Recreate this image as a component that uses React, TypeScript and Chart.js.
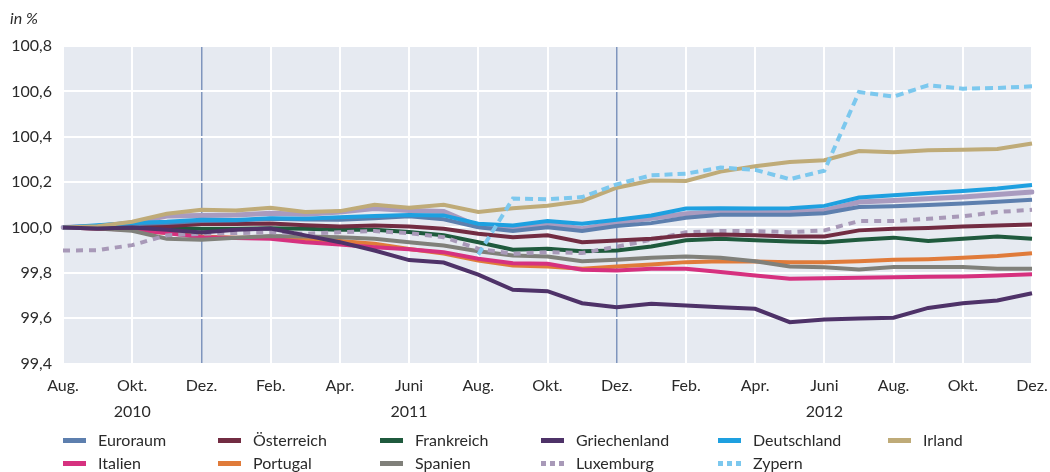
import React, { useEffect, useRef } from "react";
import { Chart, registerables } from "chart.js";

Chart.register(...registerables);

const categories = [
  "Aug. 2010", "Sep. 2010", "Okt. 2010", "Nov. 2010", "Dez. 2010",
  "Jan. 2011", "Feb. 2011", "März 2011", "Apr. 2011", "Mai 2011", "Juni 2011", "Juli 2011",
  "Aug. 2011", "Sep. 2011", "Okt. 2011", "Nov. 2011", "Dez. 2011",
  "Jan. 2012", "Feb. 2012", "März 2012", "Apr. 2012", "Mai 2012", "Juni 2012", "Juli 2012",
  "Aug. 2012", "Sep. 2012", "Okt. 2012", "Nov. 2012", "Dez. 2012",
];

const tickLabels: (string | string[])[] = [
  "Aug.", "", ["Okt.", "2010"], "", "Dez.", "", "Feb.", "", "Apr.", "", ["Juni", "2011"], "",
  "Aug.", "", "Okt.", "", "Dez.", "", "Feb.", "", "Apr.", "", ["Juni", "2012"], "",
  "Aug.", "", "Okt.", "", "Dez.",
];

const yTicks = [99.4, 99.6, 99.8, 100.0, 100.2, 100.4, 100.6, 100.8];
const markerMonths = ["Dez. 2010", "Dez. 2011"];

const euroraum = [100.0, 100.005, 100.015, 100.02, 100.028, 100.03, 100.038, 100.035, 100.034, 100.04, 100.049, 100.036, 100.001, 99.984, 100.001, 99.984, 100.006, 100.019, 100.043, 100.056, 100.056, 100.056, 100.063, 100.09, 100.093, 100.099, 100.105, 100.113, 100.122];
const oesterreich = [100.0, 99.995, 100.0, 100.005, 100.015, 100.015, 100.017, 100.01, 100.004, 100.009, 100.004, 99.994, 99.972, 99.957, 99.965, 99.935, 99.942, 99.95, 99.965, 99.969, 99.965, 99.96, 99.96, 99.987, 99.994, 99.998, 100.004, 100.008, 100.013];
const frankreich = [100.0, 100.0, 100.0, 99.997, 99.994, 99.994, 99.996, 99.994, 99.99, 99.99, 99.98, 99.966, 99.935, 99.902, 99.906, 99.895, 99.898, 99.916, 99.943, 99.95, 99.943, 99.938, 99.935, 99.946, 99.955, 99.94, 99.95, 99.96, 99.95];
const griechenland = [100.0, 99.995, 100.0, 99.99, 99.978, 99.99, 99.995, 99.965, 99.935, 99.898, 99.856, 99.845, 99.792, 99.725, 99.719, 99.666, 99.648, 99.663, 99.656, 99.648, 99.641, 99.582, 99.594, 99.598, 99.602, 99.645, 99.666, 99.678, 99.71];
const deutschland = [100.0, 100.01, 100.02, 100.025, 100.034, 100.033, 100.04, 100.038, 100.045, 100.05, 100.055, 100.053, 100.016, 100.009, 100.028, 100.016, 100.034, 100.053, 100.083, 100.085, 100.083, 100.085, 100.095, 100.132, 100.142, 100.152, 100.161, 100.172, 100.187];
const irland = [100.0, 100.005, 100.025, 100.06, 100.078, 100.075, 100.087, 100.068, 100.072, 100.1, 100.087, 100.1, 100.068, 100.085, 100.096, 100.116, 100.175, 100.207, 100.205, 100.246, 100.27, 100.288, 100.296, 100.337, 100.331, 100.34, 100.342, 100.346, 100.37];
const italien = [100.0, 99.995, 99.99, 99.975, 99.957, 99.953, 99.95, 99.935, 99.925, 99.913, 99.904, 99.891, 99.862, 99.842, 99.84, 99.813, 99.81, 99.818, 99.818, 99.803, 99.788, 99.774, 99.776, 99.778, 99.78, 99.782, 99.784, 99.788, 99.793];
const portugal = [100.0, 100.0, 99.99, 99.975, 99.96, 99.955, 99.955, 99.948, 99.94, 99.928, 99.905, 99.885, 99.854, 99.832, 99.828, 99.818, 99.828, 99.837, 99.847, 99.851, 99.85, 99.847, 99.847, 99.851, 99.857, 99.86, 99.866, 99.874, 99.886];
const spanien = [100.0, 99.995, 99.985, 99.95, 99.946, 99.955, 99.962, 99.96, 99.957, 99.95, 99.935, 99.92, 99.895, 99.876, 99.872, 99.851, 99.857, 99.866, 99.872, 99.866, 99.851, 99.828, 99.824, 99.815, 99.825, 99.825, 99.825, 99.818, 99.818];
const luxemburg = [99.898, 99.9, 99.922, 99.965, 99.972, 99.975, 99.979, 99.972, 99.979, 99.984, 99.975, 99.957, 99.906, 99.884, 99.891, 99.887, 99.915, 99.946, 99.979, 99.984, 99.984, 99.979, 99.987, 100.028, 100.028, 100.038, 100.049, 100.068, 100.078];
const zypern = [null, null, null, null, null, null, null, null, null, null, null, null, 99.88, 100.127, 100.124, 100.134, 100.19, 100.23, 100.237, 100.264, 100.254, 100.213, 100.25, 100.597, 100.577, 100.627, 100.612, 100.615, 100.622];
const ohneLegende = [100.0, 100.005, 100.02, 100.05, 100.053, 100.055, 100.063, 100.058, 100.068, 100.083, 100.075, 100.07, 100.005, 99.994, 100.016, 99.994, 100.02, 100.04, 100.06, 100.068, 100.07, 100.072, 100.075, 100.112, 100.119, 100.126, 100.134, 100.145, 100.156];

const COLORS = {
  euroraum: "#5d7fae",
  oesterreich: "#722c42",
  frankreich: "#1f5a3d",
  griechenland: "#4e3268",
  deutschland: "#1ea0e0",
  irland: "#bfab78",
  italien: "#d6317f",
  portugal: "#e07b3a",
  spanien: "#80807a",
  luxemburg: "#a899b8",
  zypern: "#7cc8ee",
  ohne: "#a99bbf",
};

const legendItems = [
  { label: "Euroraum", color: COLORS.euroraum, dotted: false, col: 0, row: 0 },
  { label: "Österreich", color: COLORS.oesterreich, dotted: false, col: 1, row: 0 },
  { label: "Frankreich", color: COLORS.frankreich, dotted: false, col: 2, row: 0 },
  { label: "Griechenland", color: COLORS.griechenland, dotted: false, col: 3, row: 0 },
  { label: "Deutschland", color: COLORS.deutschland, dotted: false, col: 4, row: 0 },
  { label: "Irland", color: COLORS.irland, dotted: false, col: 5, row: 0 },
  { label: "Italien", color: COLORS.italien, dotted: false, col: 0, row: 1 },
  { label: "Portugal", color: COLORS.portugal, dotted: false, col: 1, row: 1 },
  { label: "Spanien", color: COLORS.spanien, dotted: false, col: 2, row: 1 },
  { label: "Luxemburg", color: COLORS.luxemburg, dotted: true, col: 3, row: 1 },
  { label: "Zypern", color: COLORS.zypern, dotted: true, col: 4, row: 1 },
];
const legendCols = [63, 218, 380, 541, 718, 888];
const legendRows = [440, 463];

const FONT = "Lato, 'Open Sans', sans-serif";

export default function App() {
  const ref = useRef<HTMLCanvasElement>(null);

  useEffect(() => {
    const line = (label: string, data: (number | null)[], color: string, extra: any = {}) => ({
      label,
      data,
      borderColor: color,
      backgroundColor: color,
      borderWidth: 4,
      pointRadius: 0,
      pointHoverRadius: 0,
      tension: 0,
      fill: false,
      spanGaps: false,
      ...extra,
    });

    const datasets = [
      line("Griechenland", griechenland, COLORS.griechenland),
      line("Zypern", zypern, COLORS.zypern, { borderDash: [8, 5] }),
      line("Irland", irland, COLORS.irland),
      line("Deutschland", deutschland, COLORS.deutschland),
      line("Euroraum", euroraum, COLORS.euroraum),
      line("", ohneLegende, COLORS.ohne, { borderWidth: 5, borderCapStyle: "round" }),
      line("Österreich", oesterreich, COLORS.oesterreich),
      line("Luxemburg", luxemburg, COLORS.luxemburg, { borderDash: [7, 6] }),
      line("Frankreich", frankreich, COLORS.frankreich),
      line("Spanien", spanien, COLORS.spanien),
      line("Italien", italien, COLORS.italien),
      line("Portugal", portugal, COLORS.portugal),
    ];

    const bgPlugin = {
      id: "plotBg",
      beforeDraw(chart: any) {
        const { ctx, chartArea } = chart;
        ctx.save();
        ctx.fillStyle = "#e6eaf1";
        ctx.fillRect(chartArea.left, chartArea.top, chartArea.right - chartArea.left, chartArea.bottom - chartArea.top);
        ctx.restore();
      },
    };

    const chart = new Chart(ref.current as HTMLCanvasElement, {
      type: "line",
      data: { labels: categories, datasets: datasets as any },
      plugins: [bgPlugin],
      options: {
        animation: false,
        responsive: true,
        maintainAspectRatio: false,
        layout: { padding: { top: 46, right: 18, left: 0, bottom: 0 } },
        plugins: { legend: { display: false }, tooltip: { enabled: false } },
        scales: {
          x: {
            type: "category",
            offset: false,
            border: { display: false },
            grid: {
              drawTicks: false,
              color: (ctx: any) => {
                const i = ctx.index;
                if (markerMonths.includes(categories[i])) return "#7f95bd";
                return i % 2 === 0 ? "#ffffff" : "rgba(0,0,0,0)";
              },
              lineWidth: (ctx: any) => (markerMonths.includes(categories[ctx.index]) ? 1.5 : 2),
            },
            ticks: {
              autoSkip: false,
              maxRotation: 0,
              minRotation: 0,
              padding: 10,
              color: "#2a2a2a",
              font: { family: FONT, size: 16, lineHeight: 1.6 },
              callback: (_v: any, i: number) => tickLabels[i],
            },
            afterFit: (s: any) => {
              s.height = 108.5;
              s.paddingLeft = 0;
              s.paddingRight = 0;
            },
          },
          y: {
            min: yTicks[0],
            max: yTicks[yTicks.length - 1],
            border: { display: false },
            grid: { drawTicks: false, color: "#ffffff", lineWidth: 2 },
            ticks: {
              stepSize: 0.2,
              padding: 11,
              color: "#2a2a2a",
              font: { family: FONT, size: 16 },
              callback: (v: any) => Number(v).toFixed(1).replace(".", ","),
            },
            afterFit: (s: any) => {
              s.width = 63;
            },
          },
        },
      },
    });
    return () => chart.destroy();
  }, []);

  return (
    <div style={{ position: "absolute", left: 0, top: 0, width: 1050, height: 472, background: "#fff", fontFamily: FONT }}>
      <div style={{ position: "absolute", left: 0, top: 0, width: 1050, height: 472 }}>
        <canvas ref={ref} />
      </div>
      <div style={{ position: "absolute", left: 10, top: 7, fontSize: 16, fontStyle: "italic", color: "#2a2a2a", lineHeight: "22px" }}>
        in %
      </div>
      {legendItems.map((it) => {
        const x = legendCols[it.col];
        const y = legendRows[it.row];
        return (
          <div key={it.label} style={{ position: "absolute", left: x, top: y - 11, height: 22, display: "flex", alignItems: "center" }}>
            <div
              style={{
                width: 23,
                height: 5,
                marginRight: 12,
                background: it.dotted
                  ? `repeating-linear-gradient(90deg, ${it.color} 0px, ${it.color} 5px, transparent 5px, transparent 9px)`
                  : it.color,
              }}
            />
            <span style={{ fontSize: 16, color: "#2a2a2a", lineHeight: "22px", whiteSpace: "nowrap" }}>{it.label}</span>
          </div>
        );
      })}
    </div>
  );
}
